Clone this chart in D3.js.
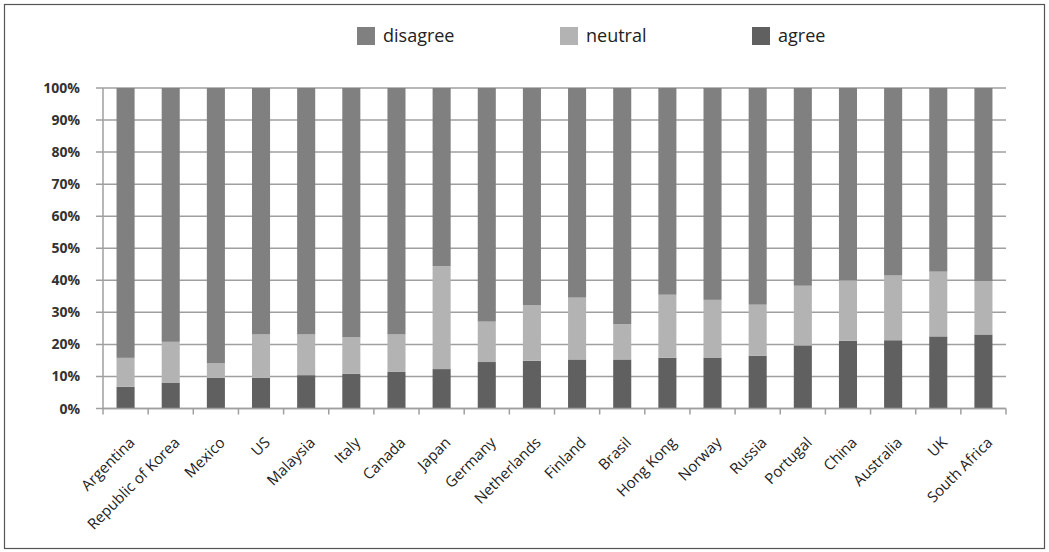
<!DOCTYPE html>
<html>
<head>
<meta charset="utf-8">
<script src="https://cdn.jsdelivr.net/npm/d3@7"></script>
<style>
  html, body { margin: 0; padding: 0; background: #fff; }
  svg { display: block; }
</style>
</head>
<body>
<svg id="chart" width="1049" height="552"></svg>
<script>
const categories = ["Argentina","Republic of Korea","Mexico","US","Malaysia","Italy","Canada","Japan","Germany","Netherlands","Finland","Brasil","Hong Kong","Norway","Russia","Portugal","China","Australia","UK","South Africa"];
const agree    = [6.8, 8.1, 9.6, 9.6, 10.4, 10.8, 11.4, 12.3, 14.5, 14.9, 15.3, 15.3, 15.8, 15.9, 16.5, 19.7, 21.1, 21.3, 22.5, 23.1];
const neutral  = [9.0, 12.7, 4.5, 13.5, 12.7, 11.4, 11.7, 32.1, 12.6, 17.3, 19.3, 11.0, 19.7, 18.0, 15.9, 18.6, 18.9, 20.2, 20.2, 16.6];
const disagree = [84.2, 79.2, 85.9, 76.9, 76.9, 77.8, 76.9, 55.6, 72.9, 67.8, 65.4, 73.7, 64.5, 66.1, 67.6, 61.7, 60.0, 58.5, 57.3, 60.3];
const seriesNames = ["agree", "neutral", "disagree"];
const legendOrder = ["disagree", "neutral", "agree"];
const yTicks = [0, 10, 20, 30, 40, 50, 60, 70, 80, 90, 100];

const colors = { disagree: "#808080", neutral: "#b3b3b3", agree: "#606060" };

const svg = d3.select("#chart");

// outer frame
svg.append("rect").attr("x", 4.5).attr("y", 4.5).attr("width", 1040).attr("height", 544)
  .attr("fill", "none").attr("stroke", "#555").attr("stroke-width", 1.2);

const plotLeft = 103, plotRight = 1006, plotTop = 88, plotBottom = 408.5;

const x = d3.scaleBand().domain(categories).range([plotLeft, plotRight]).paddingInner(0.6).paddingOuter(0.3);
const y = d3.scaleLinear().domain([0, 100]).range([plotBottom, plotTop]);

// gridlines
svg.append("g").selectAll("line").data(yTicks).join("line")
  .attr("x1", plotLeft - 7).attr("x2", plotRight)
  .attr("y1", d => y(d)).attr("y2", d => y(d))
  .attr("stroke", "#9f9f9f").attr("stroke-width", 1.5);

// y axis line
svg.append("line").attr("x1", plotLeft).attr("x2", plotLeft).attr("y1", y(100)).attr("y2", y(0))
  .attr("stroke", "#9f9f9f").attr("stroke-width", 1.5);

// y labels
svg.append("g").selectAll("text").data(yTicks).join("text")
  .attr("x", 80).attr("y", d => y(d)).attr("dy", "0.36em")
  .attr("text-anchor", "end")
  .attr("font-family", "'Open Sans', sans-serif").attr("font-weight", "bold")
  .attr("font-size", 14).attr("fill", "#333")
  .text(d => d + "%");

// stacked data
const rows = categories.map((c, i) => ({ cat: c, agree: agree[i], neutral: neutral[i], disagree: disagree[i] }));
const stack = d3.stack().keys(seriesNames)(rows);

svg.append("g").selectAll("g").data(stack).join("g")
  .attr("fill", d => colors[d.key])
  .selectAll("rect").data(d => d).join("rect")
  .attr("x", d => x(d.data.cat))
  .attr("width", x.bandwidth())
  .attr("y", d => y(d[1]))
  .attr("height", d => y(d[0]) - y(d[1]));

// x axis line and ticks (between categories)
svg.append("line").attr("x1", plotLeft).attr("x2", plotRight).attr("y1", plotBottom).attr("y2", plotBottom)
  .attr("stroke", "#9f9f9f").attr("stroke-width", 1.5);
const step = x.step();
const tickPos = d3.range(categories.length + 1).map(i => plotLeft + i * step);
svg.append("g").selectAll("line").data(tickPos).join("line")
  .attr("x1", d => d).attr("x2", d => d).attr("y1", plotBottom).attr("y2", plotBottom + 6)
  .attr("stroke", "#9f9f9f").attr("stroke-width", 1.5);

// x labels
svg.append("g").selectAll("text").data(categories).join("text")
  .attr("transform", d => `translate(${x(d) + x.bandwidth() / 2 + 10},${plotBottom + 35}) rotate(-45)`)
  .attr("text-anchor", "end")
  .attr("font-family", "'Open Sans', sans-serif")
  .attr("font-size", 15).attr("fill", "#222")
  .text(d => d);

// legend
const legendX = [357, 560, 752];
const lg = svg.append("g").selectAll("g").data(legendOrder).join("g")
  .attr("transform", (d, i) => `translate(${legendX[i]},27)`);
lg.append("rect").attr("width", 18).attr("height", 18).attr("fill", d => colors[d]);
lg.append("text").attr("x", 26).attr("y", 14.5)
  .attr("font-family", "'Open Sans', sans-serif").attr("font-size", 18).attr("fill", "#222")
  .text(d => d);
</script>
</body>
</html>
